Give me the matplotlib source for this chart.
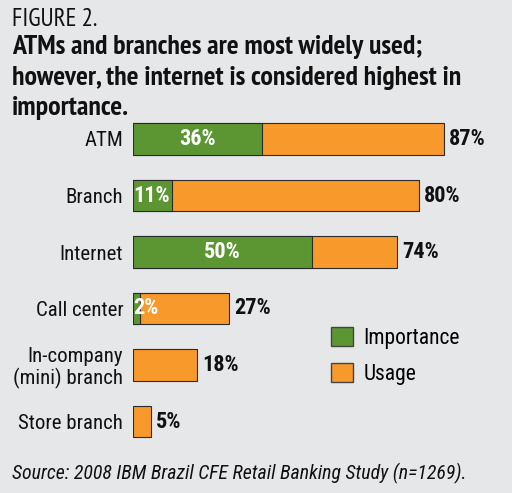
import matplotlib
matplotlib.use("Agg")
import matplotlib.pyplot as plt
from matplotlib.patches import Patch

plt.rcParams['font.family'] = ['Roboto Condensed', 'DejaVu Sans']
narrow = ['PT Sans Narrow', 'Roboto Condensed', 'DejaVu Sans']

# data
channels = ['ATM', 'Branch', 'Internet', 'Call center', 'In-company\n(mini) branch', 'Store branch']
importance = [36, 11, 50, 2, None, None]
usage = [87, 80, 74, 27, 18, 5]
title_lines = ['ATMs and branches are most widely used;',
               'however, the internet is considered highest in',
               'importance.']

bg = '#e6e7e9'
green = '#5b9632'
orange = '#f7992b'
edge = '#2b2b2b'
ink = '#111111'

fig = plt.figure(figsize=(5.12, 4.93), dpi=100, facecolor=bg)
ax = fig.add_axes([133 / 512, 1 - 449.75 / 493, 357 / 512, (449.75 - 110.75) / 493])
ax.set_facecolor(bg)

ypos = list(range(len(channels)))
ax.barh(ypos, usage, height=0.55, color=orange, edgecolor=edge, linewidth=0.8)
for y, imp in zip(ypos, importance):
    if imp:
        ax.barh(y, imp, height=0.55, color=green, edgecolor=edge, linewidth=0.8)

for y, u in zip(ypos, usage):
    ax.text(u + 1.4, y, f'{u}%', va='center', ha='left', fontsize=16,
            fontweight='bold', color=ink)
for y, imp in zip(ypos, importance):
    if imp is None:
        continue
    if imp < 15:
        ax.text(0, y, f'{imp}%', va='center', ha='left', fontsize=16,
                fontweight='bold', color='white')
    else:
        ax.text(imp / 2, y, f'{imp}%', va='center', ha='center', fontsize=16,
                fontweight='bold', color='white')

ax.set_xlim(0, 100)
ax.set_ylim(len(channels) - 0.5, -0.5)
ax.set_yticks(ypos)
ax.set_yticklabels(channels, fontsize=15, color=ink, linespacing=1.1)
ax.tick_params(axis='y', length=0, pad=7)
ax.set_xticks([])
for s in ax.spines.values():
    s.set_visible(False)

handles = [Patch(facecolor=green, edgecolor='#444444', label='Importance'),
           Patch(facecolor=orange, edgecolor='#444444', label='Usage')]
fig.legend(handles=handles, loc='upper left', bbox_to_anchor=(331 / 512, 1 - 327 / 493),
           frameon=False, fontsize=15.5, handlelength=1.0, handleheight=1.0,
           handletextpad=0.5, labelspacing=0.65, borderpad=0, borderaxespad=0)

fig.text(12 / 512, 1 - 26.5 / 493, 'FIGURE 2.', fontsize=18, family=narrow,
         va='baseline', ha='left', color=ink)
for i, line in enumerate(title_lines):
    fig.text(12 / 512, 1 - (54 + 30.5 * i) / 493, line, fontsize=20, fontweight='bold',
             family=narrow, va='baseline', ha='left', color=ink)
fig.text(12 / 512, 1 - 479 / 493, 'Source: 2008 IBM Brazil CFE Retail Banking Study (n=1269).',
         fontsize=14.3, style='italic', va='baseline', ha='left', color=ink)

fig.savefig('out.png', dpi=100, facecolor=bg)
